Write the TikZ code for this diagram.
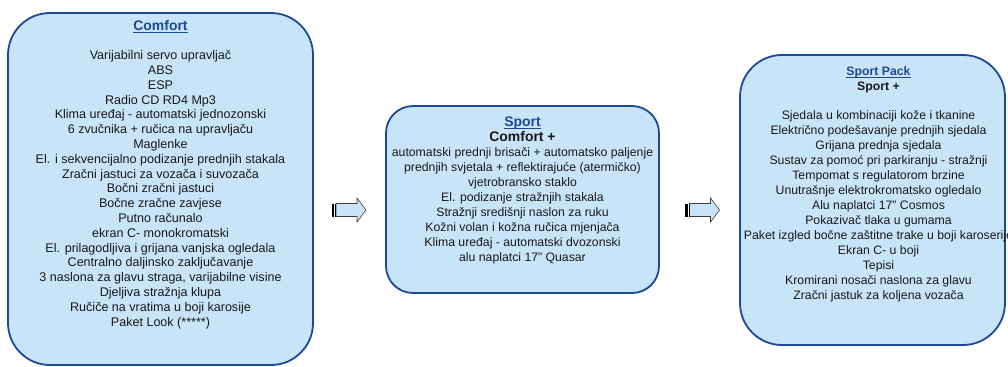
\documentclass[tikz,border=0pt]{standalone}
\usepackage{fontspec}
\setmainfont{Liberation Sans}
\usetikzlibrary{positioning}

\definecolor{paketfill}{RGB}{200,228,248}
\definecolor{paketline}{RGB}{28,72,150}

% naslov paketa: plavo, podebljano, podcrtano
\newcommand{\naslov}[1]{\sbox0{\color{paketline}\bfseries #1}{\color{paketline}\rlap{\copy0}\rule[-1.9bp]{\wd0}{0.9bp}}}

\begin{document}
\begin{tikzpicture}[x=1bp,y=-1bp,
    paket/.style={draw=paketline,line width=1.8bp,fill=paketfill,inner sep=0pt},
    popis/.style={align=center,inner sep=0pt,text=black!90},
    strelica/.style={draw=black!75,line width=0.6bp,fill=paketfill}]
    \useasboundingbox (0,0) rectangle (1008,366);

    % paketi
    \node [paket,rounded corners=42bp,minimum width=305bp,minimum height=352bp,at={(160.5,189)}] (comfort) {};
    \node [paket,rounded corners=27bp,minimum width=273bp,minimum height=187bp,at={(522.5,199.5)}] (sport) {};
    \node [paket,rounded corners=42bp,minimum width=265bp,minimum height=290bp,at={(872.5,200)}] (sportpack) {};

    % Comfort
    \node [popis,font=\fontsize{12.6}{14.85}\selectfont,below=8.5bp of comfort.north] (comforttxt) {%
        {\fontsize{14}{15}\selectfont\naslov{Comfort}}\\[14bp]
        Varijabilni servo upravljač\\
        ABS\\
        ESP\\
        Radio CD RD4 Mp3\\
        Klima uređaj - automatski jednozonski\\
        6 zvučnika + ručica na upravljaču\\
        Maglenke\\
        El. i sekvencijalno podizanje prednjih stakala\\
        Zračni jastuci za vozača i suvozača\\
        Bočni zračni jastuci\\
        Bočne zračne zavjese\\
        Putno računalo\\
        ekran C- monokromatski\\
        El. prilagodljiva i grijana vanjska ogledala\\
        Centralno daljinsko zaključavanje\\
        3 naslona za glavu straga, varijabilne visine\\
        Djeljiva stražnja klupa\\
        Ručiče na vratima u boji karosije\\
        Paket Look (*****)};

    % Sport
    \node [popis,font=\fontsize{12.3}{15}\selectfont,below=11.5bp of sport.north] (sporttxt) {%
        {\fontsize{14}{15}\selectfont\naslov{Sport}}\\
        {\fontsize{14}{15}\selectfont\bfseries Comfort +}\\
        automatski prednji brisači + automatsko paljenje\\
        prednjih svjetala + reflektirajuće (atermičko)\\
        vjetrobransko staklo\\
        El. podizanje stražnjih stakala\\
        Stražnji središnji naslon za ruku\\
        Kožni volan i kožna ručica mjenjača\\
        Klima uređaj - automatski dvozonski\\
        alu naplatci 17" Quasar};

    % Sport Pack
    \node [popis,font=\fontsize{12.3}{15}\selectfont,below=12.7bp of sportpack.north,xshift=6bp] (sportpacktxt) {%
        {\fontsize{12.3}{15}\selectfont\naslov{Sport Pack}}\\
        {\fontsize{12.3}{15}\selectfont\bfseries Sport +}\\[14bp]
        Sjedala u kombinaciji kože i tkanine\\
        Električno podešavanje prednjih sjedala\\
        Grijana prednja sjedala\\
        Sustav za pomoć pri parkiranju - stražnji\\
        Tempomat s regulatorom brzine\\
        Unutrašnje elektrokromatsko ogledalo\\
        Alu naplatci 17" Cosmos\\
        Pokazivač tlaka u gumama\\
        Paket izgled bočne zaštitne trake u boji karoserije\\
        Ekran C- u boji\\
        Tepisi\\
        Kromirani nosači naslona za glavu\\
        Zračni jastuk za koljena vozača};

    % strelice (s prugama na repu)
    \coordinate (str1) at (331.5,210);
    \coordinate (str2) at (685,210);
    \foreach \s in {str1,str2}{
        \draw[strelica] ([xshift=4.5bp,yshift=6.5bp]\s) -- ++(21bp,0) -- ++(0,5.5bp)
            -- ([xshift=34.5bp]\s) -- ([xshift=25.5bp,yshift=-12bp]\s) -- ++(0,5.5bp)
            -- ([xshift=4.5bp,yshift=-6.5bp]\s) -- cycle;
        \fill[black] ([yshift=-6.5bp]\s) rectangle ([xshift=2.8bp,yshift=6.5bp]\s);
        \fill[black] ([xshift=3.5bp,yshift=-6.5bp]\s) rectangle ([xshift=4.5bp,yshift=6.5bp]\s);
    }
\end{tikzpicture}
\end{document}
